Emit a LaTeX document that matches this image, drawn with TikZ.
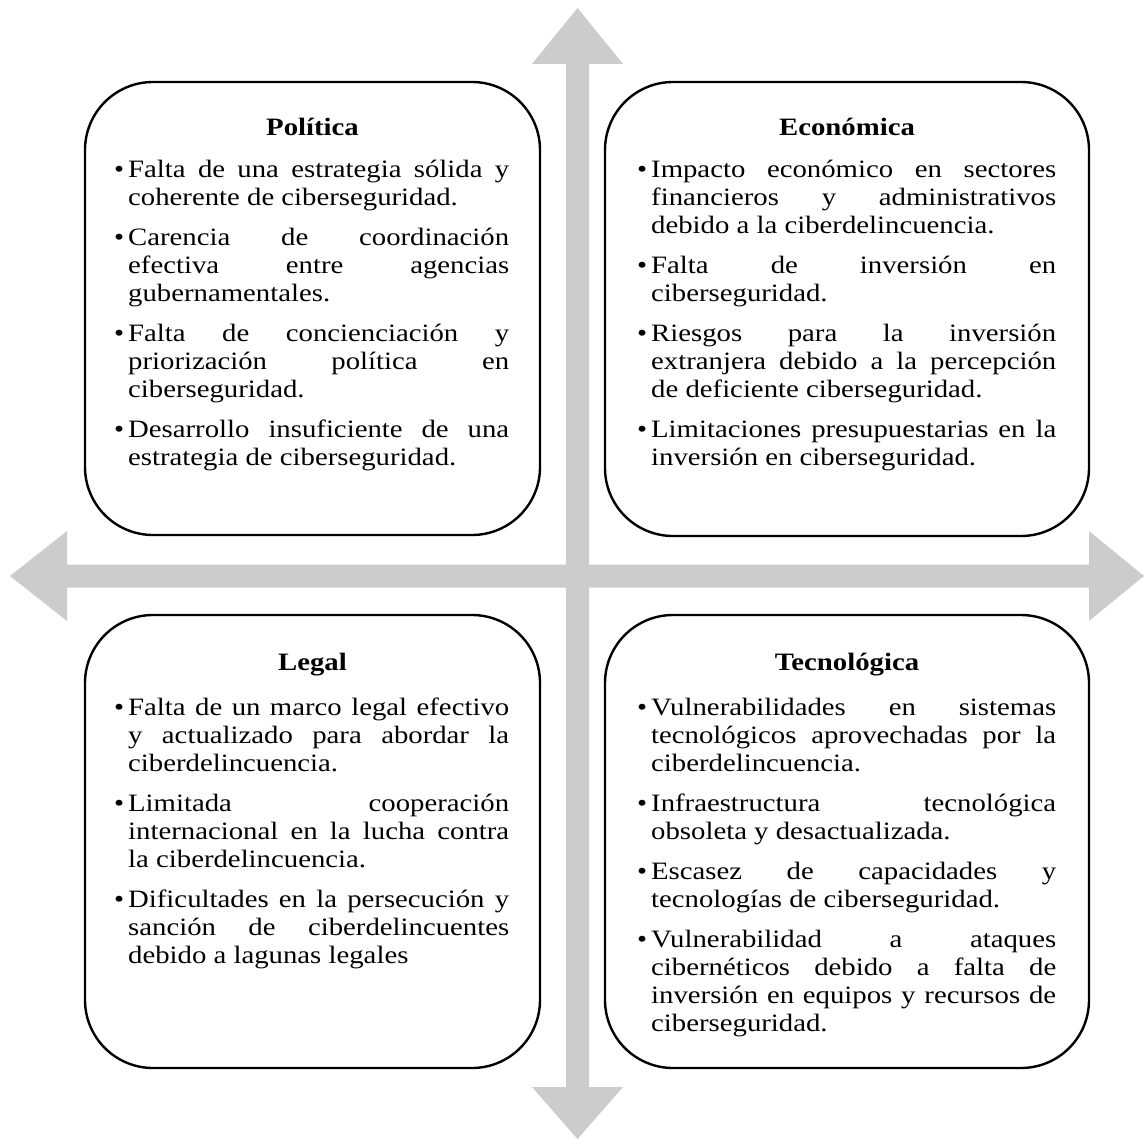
\documentclass[tikz,border=0pt]{standalone}
\usepackage{fontspec}
\setmainfont{Liberation Serif}[FakeStretch=1.15]
\usepackage{tikz}
\usetikzlibrary{positioning}

\definecolor{axisgray}{RGB}{204,204,204}

% one bullet point with hanging indent
\newcommand{\itm}[1]{\hangindent=7pt\hangafter=1\noindent\makebox[7pt][l]{\textbullet}#1\par}

\tikzset{
  quad/.style={draw, line width=1.2pt, rounded corners=34pt, inner sep=0pt},
  qtitle/.style={font=\fontsize{12.5}{14}\selectfont\bfseries, anchor=base, inner sep=0pt},
  qbody/.style={anchor=base west, inner sep=0pt, align=justify},
}

\begin{document}
\begin{tikzpicture}[x=0.5pt, y=-0.5pt, font=\fontsize{12.5}{14}\selectfont]
  \useasboundingbox (0,0) rectangle (1145,1139);
  \tolerance=10000 \hbadness=10000 \hyphenpenalty=10000 \exhyphenpenalty=10000
  % axes
  \fill[axisgray] (10,576) -- (67,531) -- (67,564.5) -- (1089,564.5) -- (1089,531) -- (1144,576)
    -- (1089,621) -- (1089,587.5) -- (67,587.5) -- (67,621) -- cycle;
  \fill[axisgray] (577.5,8) -- (623,64) -- (589,64) -- (589,1087) -- (623,1087) -- (577.5,1139)
    -- (532,1087) -- (566,1087) -- (566,64) -- (532,64) -- cycle;
  % boxes
  \node[quad, minimum width=227.5pt, minimum height=226.5pt] (pol) at (312.5,308.5) {};
  \node[quad, minimum width=242pt, minimum height=227pt] (eco) at (847,309) {};
  \node[quad, minimum width=227.5pt, minimum height=226.5pt] (leg) at (312.5,841.5) {};
  \node[quad, minimum width=242pt, minimum height=226.5pt] (tec) at (847,841.5) {};
  % titles
  \node[qtitle] (polT) at ([yshift=-27.5pt]pol.north) {Política};
  \node[qtitle] (ecoT) at ([yshift=-27.5pt]eco.north) {Económica};
  \node[qtitle] (legT) at ([yshift=-28.5pt]leg.north) {Legal};
  \node[qtitle] (tecT) at ([yshift=-28.5pt]tec.north) {Tecnológica};
  % bullet lists
  \node[qbody, text width=197.5pt] (polB) at ([xshift=15pt, yshift=-48.5pt]pol.north west) {\setlength{\parskip}{6pt}\rightskip=0pt\parfillskip=0pt plus 1fil%
    \itm{Falta de una estrategia sólida y\linebreak coherente de ciberseguridad.}%
    \itm{Carencia de coordinación\linebreak efectiva entre agencias\linebreak gubernamentales.}%
    \itm{Falta de concienciación y\linebreak priorización política en\linebreak ciberseguridad.}%
    \itm{Desarrollo insuficiente de una\linebreak estrategia de ciberseguridad.}};
  \node[qbody, text width=209.5pt] (ecoB) at ([xshift=16.5pt, yshift=-48.5pt]eco.north west) {\setlength{\parskip}{6pt}\rightskip=0pt\parfillskip=0pt plus 1fil%
    \itm{Impacto económico en sectores\linebreak financieros y administrativos\linebreak debido a la ciberdelincuencia.}%
    \itm{Falta de inversión en\linebreak ciberseguridad.}%
    \itm{Riesgos para la inversión\linebreak extranjera debido a la percepción\linebreak de deficiente ciberseguridad.}%
    \itm{Limitaciones presupuestarias en la\linebreak inversión en ciberseguridad.}};
  \node[qbody, text width=197.5pt] (legB) at ([xshift=15pt, yshift=-51pt]leg.north west) {\setlength{\parskip}{6pt}\rightskip=0pt\parfillskip=0pt plus 1fil%
    \itm{Falta de un marco legal efectivo\linebreak y actualizado para abordar la\linebreak ciberdelincuencia.}%
    \itm{Limitada cooperación\linebreak internacional en la lucha contra\linebreak la ciberdelincuencia.}%
    \itm{Dificultades en la persecución y\linebreak sanción de ciberdelincuentes\linebreak debido a lagunas legales}};
  \node[qbody, text width=209.5pt] (tecB) at ([xshift=16.5pt, yshift=-51pt]tec.north west) {\setlength{\parskip}{6pt}\rightskip=0pt\parfillskip=0pt plus 1fil%
    \itm{Vulnerabilidades en sistemas\linebreak tecnológicos aprovechadas por la\linebreak ciberdelincuencia.}%
    \itm{Infraestructura tecnológica\linebreak obsoleta y desactualizada.}%
    \itm{Escasez de capacidades y\linebreak tecnologías de ciberseguridad.}%
    \itm{Vulnerabilidad a ataques\linebreak cibernéticos debido a falta de\linebreak inversión en equipos y recursos de\linebreak ciberseguridad.}};
\end{tikzpicture}
\end{document}
